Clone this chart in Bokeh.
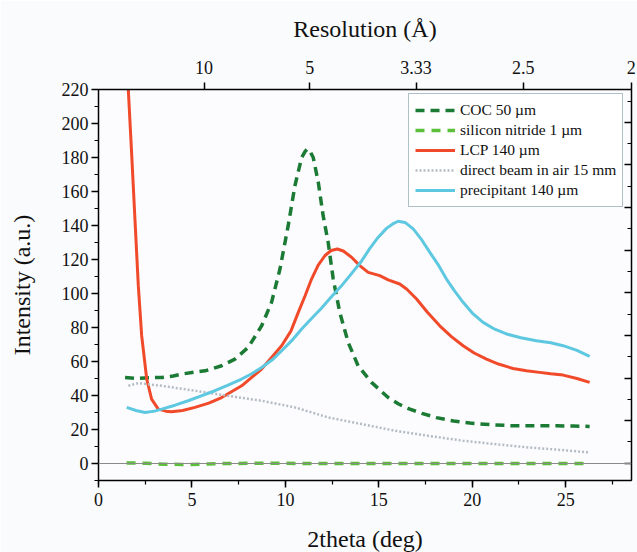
import numpy as np
from bokeh.plotting import figure
from bokeh.models import (LinearAxis, Range1d, FixedTicker, SingleIntervalTicker,
                          Span, Legend, LegendItem, CustomJSTickFormatter)
from bokeh.embed import file_html
from bokeh.resources import INLINE

# ---------------- data ----------------
coc_x = [1.42, 2.0, 2.7, 3.38, 4.0, 4.45, 5.0, 5.7, 6.59, 7.3, 8.01, 8.73, 9.26, 9.71,
         10.15, 10.51, 10.87, 11.05, 11.17, 11.3, 11.49, 11.76, 12.02, 12.29, 12.56,
         12.91, 13.36, 13.89, 14.61, 15.5, 16.06, 16.66, 17.3, 18.08, 19.0, 19.87, 21.0,
         22.18, 23.3, 24.5, 25.4, 26.28]
coc_y = [50.6, 50.0, 50.5, 50.6, 51.5, 52.6, 53.5, 54.5, 57.5, 61.4, 68.3, 81.0, 94.8,
         114.4, 139.9, 163.4, 180.0, 183.5, 185.0, 184.0, 180.0, 165.4, 145.8, 130.0,
         108.5, 88.9, 71.2, 57.5, 47.7, 38.8, 35.0, 32.0, 29.5, 27.0, 25.0, 23.8, 22.8,
         22.2, 22.2, 22.2, 22.0, 21.8]

sin_x = [1.5, 2.5, 3.5, 4.5, 5.5, 6.5, 8.0, 10.0, 12.0, 14.0, 16.0, 18.0, 20.0, 22.0,
         24.0, 26.2]
sin_y = [0.3, 0.2, -0.4, -0.6, -0.4, 0.0, 0.1, 0.1, 0.0, 0.0, 0.0, 0.0, 0.0, 0.0,
         0.0, 0.0]

lcp_x = [1.5, 1.77, 1.95, 2.13, 2.31, 2.58, 2.84, 3.2, 3.6, 3.91, 4.5, 5.16, 5.9, 6.59,
         7.66, 8.73, 9.8, 10.3, 10.69, 11.05, 11.4, 11.75, 12.11, 12.45, 12.78, 13.1,
         13.54, 13.98, 14.43, 15.05, 15.5, 16.12, 16.5, 17.02, 17.6, 18.26, 18.9, 19.51,
         20.1, 20.76, 21.4, 22.18, 22.9, 23.6, 24.2, 24.86, 25.6, 26.28]
lcp_y = [240.0, 183.0, 143.8, 104.6, 75.2, 49.7, 37.9, 32.0, 30.8, 30.4, 31.2, 33.0,
         35.5, 38.8, 45.7, 55.6, 69.3, 78.0, 88.9, 98.5, 108.5, 116.5, 122.2, 125.3,
         126.2, 125.0, 121.3, 116.4, 112.4, 110.5, 108.0, 105.6, 102.5, 96.8, 89.0, 81.0,
         74.5, 69.3, 65.0, 61.4, 58.5, 55.9, 54.5, 53.6, 52.8, 52.0, 50.0, 47.7]

air_x = [1.6, 2.13, 3.38, 5.16, 6.94, 8.73, 10.51, 12.29, 14.07, 15.9, 17.7, 19.51,
         21.3, 23.07, 24.7, 26.28]
air_y = [45.7, 47.3, 45.7, 42.8, 39.8, 36.9, 33.0, 27.1, 23.2, 19.2, 16.2, 13.4, 11.3,
         9.4, 8.0, 6.5]

pre_x = [1.51, 2.0, 2.49, 3.0, 3.38, 4.1, 4.8, 5.5, 6.23, 6.9, 7.66, 8.2, 8.73, 9.3, 9.8,
         10.35, 10.87, 11.4, 11.94, 12.38, 13.0, 13.45, 14.07, 14.52, 14.96, 15.41, 15.8,
         16.03, 16.4, 16.84, 17.3, 17.73, 18.2, 18.62, 19.05, 19.51, 20.0, 20.58, 21.2,
         21.83, 22.6, 23.43, 24.2, 24.86, 25.6, 26.28]
pre_y = [33.0, 31.2, 30.0, 30.8, 32.0, 34.3, 36.9, 39.8, 42.8, 46.0, 49.7, 52.8, 56.5,
         61.0, 66.3, 72.4, 79.1, 85.3, 91.5, 97.0, 104.5, 110.5, 119.0, 126.5, 133.0,
         138.3, 141.3, 142.5, 141.8, 138.0, 131.5, 124.2, 116.5, 108.5, 101.5, 94.8,
         88.5, 83.0, 79.0, 76.2, 74.0, 72.2, 71.0, 69.3, 66.5, 63.0]

res_values = [10.0, 5.0, 10.0 / 3.0, 2.5, 2.0]
res_labels = ["10", "5", "3.33", "2.5", "2"]
wavelength = 0.985  # Angstrom

FONT = "'Liberation Serif', 'Times New Roman', serif"

p = figure(frame_width=533, frame_height=391, x_range=Range1d(0, 28.52),
           y_range=Range1d(-10, 220), output_backend="svg", toolbar_location=None,
           min_border_left=98, min_border_top=89, min_border_right=6,
           min_border_bottom=72, background_fill_color="#fcfcfe",
           border_fill_color="#fafbfd", outline_line_color="black")
p.grid.visible = False

# main axes
xa = p.xaxis[0]
xa.ticker = SingleIntervalTicker(interval=5, num_minor_ticks=2)
xa.axis_label = "2theta (deg)"
ya = p.yaxis[0]
ya.ticker = SingleIntervalTicker(interval=20, num_minor_ticks=2)
ya.axis_label = "Intensity (a.u.)"
for ax in (xa, ya):
    ax.major_label_text_font = FONT
    ax.major_label_text_font_size = "18px"
    ax.major_label_text_color = "#111111"
    ax.axis_label_text_font = FONT
    ax.axis_label_text_font_size = "24px"
    ax.axis_label_text_font_style = "normal"
    ax.axis_label_text_color = "#111111"
    ax.axis_line_width = 1.5
    ax.major_tick_line_width = 1.5
    ax.minor_tick_line_width = 1.2
    ax.major_tick_in = 0
    ax.major_tick_out = 7
    ax.minor_tick_in = 0
    ax.minor_tick_out = 4
xa.major_label_standoff = 5
xa.axis_label_standoff = 17
ya.major_label_standoff = 3
ya.axis_label_standoff = 24

# top axis: resolution
top_ticks = [round(float(2 * np.degrees(np.arcsin(wavelength / (2 * d)))), 4) for d in res_values]
top = LinearAxis(ticker=FixedTicker(ticks=top_ticks),
                 major_label_overrides={t: l for t, l in zip(top_ticks, res_labels)},
                 axis_label="Resolution (Å)")
top.major_label_text_font = FONT
top.major_label_text_font_size = "18px"
top.major_label_text_color = "#111111"
top.major_label_standoff = 9
top.axis_label_text_font = FONT
top.axis_label_text_font_size = "24px"
top.axis_label_text_font_style = "normal"
top.axis_label_text_color = "#111111"
top.axis_label_standoff = 16
top.axis_line_width = 1.5
top.major_tick_line_width = 1.5
top.major_tick_in = 0
top.major_tick_out = 7
top.minor_tick_line_color = None
p.add_layout(top, "above")

# right axis: unlabeled ticks
p.extra_y_ranges = {"r": Range1d(-0.81, 17.54)}
right = LinearAxis(y_range_name="r", ticker=SingleIntervalTicker(interval=2, num_minor_ticks=2),
                   formatter=CustomJSTickFormatter(code="return ''"))
right.axis_line_width = 1.5
right.major_tick_line_width = 1.5
right.minor_tick_line_width = 1.2
right.major_tick_in = 7
right.major_tick_out = 0
right.minor_tick_in = 4
right.minor_tick_out = 0
right.major_label_standoff = 0
right.major_label_text_font_size = "1px"
p.add_layout(right, "right")

p.add_layout(Span(location=0, dimension="width", line_color="#8a8a8a", line_width=1))

r_coc = p.line(coc_x, coc_y, line_color="#1b7a34", line_width=3.5, line_dash="9 6")
r_sin = p.line(sin_x, sin_y, line_color="#5cbf3a", line_width=3.5, line_dash="9 7")
r_lcp = p.line(lcp_x, lcp_y, line_color="#f04a2a", line_width=3)
r_air = p.line(air_x, air_y, line_color="#b4bcc6", line_width=2.5, line_dash="2 2")
r_pre = p.line(pre_x, pre_y, line_color="#5ec8e0", line_width=3)

legend = Legend(items=[
    LegendItem(label="COC 50 µm", renderers=[r_coc]),
    LegendItem(label="silicon nitride 1 µm", renderers=[r_sin]),
    LegendItem(label="LCP 140 µm", renderers=[r_lcp]),
    LegendItem(label="direct beam in air 15 mm", renderers=[r_air]),
    LegendItem(label="precipitant 140 µm", renderers=[r_pre]),
], location=(310, 273))
legend.label_text_font = FONT
legend.label_text_font_size = "15.5px"
legend.label_text_color = "#111111"
legend.glyph_width = 40
legend.glyph_height = 20
legend.label_height = 20
legend.label_standoff = 5
legend.spacing = 0
legend.padding = 6
legend.margin = 0
legend.border_line_color = "#5f8290"
legend.border_line_width = 1
legend.background_fill_color = "white"
legend.background_fill_alpha = 1
p.add_layout(legend)

open("out.html", "w").write(file_html(p, INLINE))
